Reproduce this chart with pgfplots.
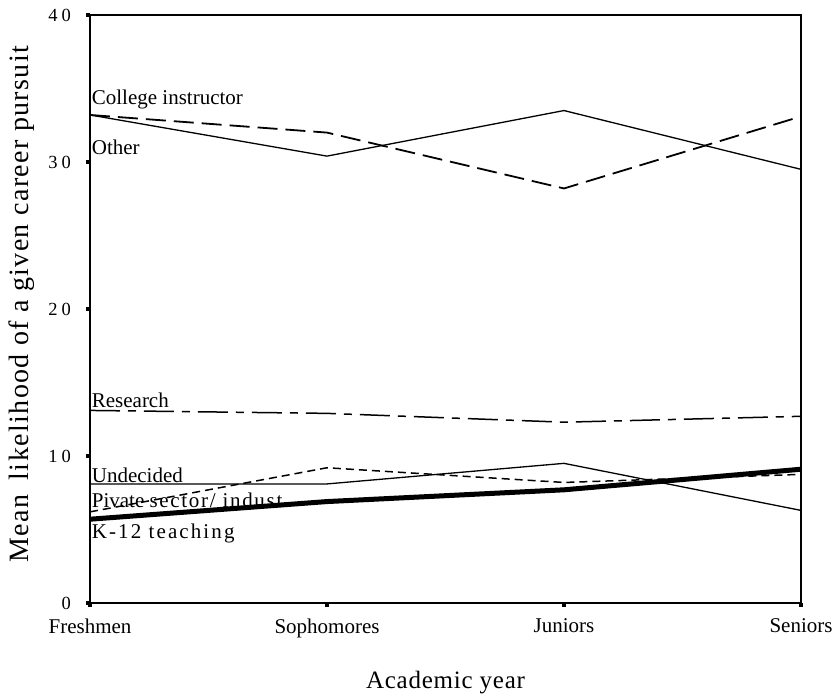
\documentclass[border=0pt]{standalone}
\usepackage{fontspec}
\setmainfont{Liberation Serif}
\usepackage{pgfplots}
\pgfplotsset{compat=1.18}
\newcommand{\lbl}{\fontsize{21bp}{24bp}\selectfont}
\newcommand{\ytl}[1]{\hbox{\fontsize{18.5bp}{20bp}\selectfont #1}}
\begin{document}
\begin{tikzpicture}
\useasboundingbox (-90bp,-96bp) rectangle (747bp,603bp);
\begin{axis}[
  at={(0,0)}, anchor=south west,
  scale only axis, width=711bp, height=588bp,
  xmin=0, xmax=3, ymin=0, ymax=40,
  xtick={0,1,2,3}, xticklabels={Freshmen,Sophomores,Juniors,Seniors},
  ytick={0,10,20,30,40},
  yticklabels={\ytl{0},\ytl{1\kern4bp 0},\ytl{2\kern4bp 0},\ytl{3\kern4bp 0},\ytl{4\kern4bp 0}},
  tick align=outside,
  tick pos=left,
  major tick length=3.5bp,
  major tick style={line width=4bp, black},
  axis line style={line width=1.3bp},
  xticklabel style={font=\lbl, yshift=-9bp},
  yticklabel style={xshift=-12bp},
  xlabel={\addfontfeatures{LetterSpace=3}Academic year},
  xlabel style={font=\fontsize{25bp}{28bp}\selectfont, at={(rel axis cs:0.5,-0.136)}, anchor=center},
  ylabel={\addfontfeatures{LetterSpace=5}Mean\hspace{0.5em}likelihood of a given career pursuit},
  ylabel style={font=\fontsize{28bp}{32bp}\selectfont, at={(rel axis cs:-0.0956,0.5085)}, anchor=center},
  clip=false,
]
% Other
\addplot[black, line width=1.3bp] coordinates {(0,33.2) (1,30.4) (2,33.5) (3,29.5)};
% College instructor
\addplot[black, line width=1.8bp, dash pattern=on 20bp off 8bp] coordinates {(0,33.2) (1,32.0) (2,28.2) (3,33.1)};
% Research
\addplot[black, line width=1.5bp, dash pattern=on 30bp off 8bp on 8bp off 8bp] coordinates {(0,13.1) (1,12.9) (2,12.3) (3,12.7)};
% Undecided
\addplot[black, line width=1.3bp] coordinates {(0,8.1) (1,8.1) (2,9.5) (3,6.3)};
% Private sector / industry
\addplot[black, line width=1.5bp, dash pattern=on 8bp off 5bp] coordinates {(0,6.2) (1,9.2) (2,8.2) (3,8.75)};
% K-12 teaching
\addplot[black, line width=5bp] coordinates {(0,5.7) (1,6.9) (2,7.7) (3,9.1)};

\node[font=\lbl, anchor=base west, inner sep=0pt] at (axis cs:0.0070,33.88) {College instructor};
\node[font=\lbl, anchor=base west, inner sep=0pt] at (axis cs:0.0070,30.54) {Other};
\node[font=\lbl, anchor=base west, inner sep=0pt] at (axis cs:0.0070,13.33) {Research};
\node[font=\lbl, anchor=base west, inner sep=0pt] at (axis cs:0.0070,8.23) {Undecided};
\node[font=\lbl, anchor=base west, inner sep=0pt] at (axis cs:0.0070,6.53) {Pivate {\addfontfeatures{LetterSpace=8}sector/ indust}};
\node[font=\lbl, anchor=base west, inner sep=0pt] at (axis cs:0.0070,4.42) {\addfontfeatures{LetterSpace=10}K-12 teaching};
\end{axis}
\end{tikzpicture}
\end{document}
